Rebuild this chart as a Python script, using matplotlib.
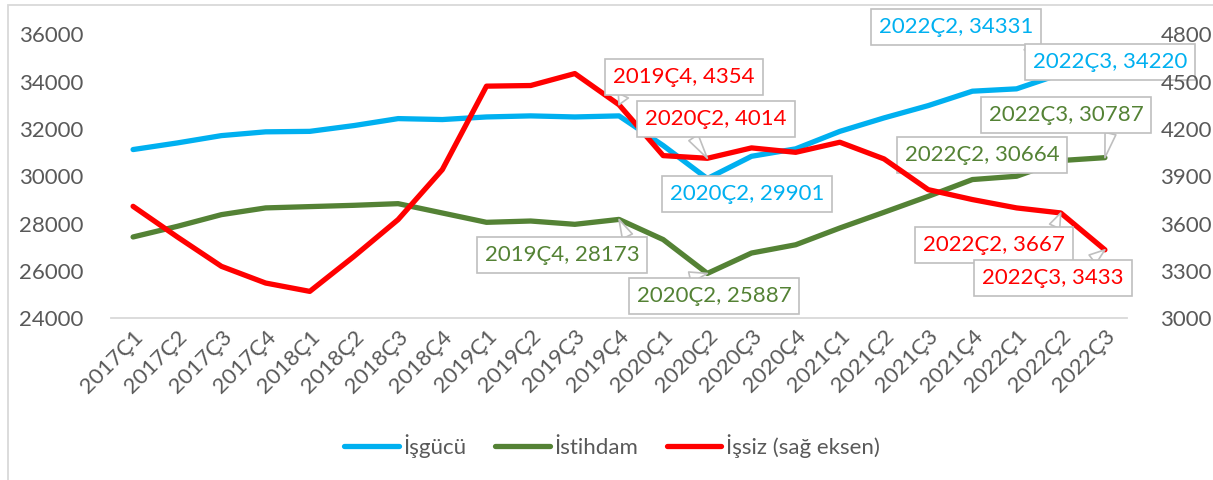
import matplotlib.pyplot as plt
from matplotlib.patches import Rectangle

plt.rcParams['font.family'] = ['Lato', 'DejaVu Sans']

# veri
donemler = ['2017Ç1', '2017Ç2', '2017Ç3', '2017Ç4', '2018Ç1', '2018Ç2', '2018Ç3', '2018Ç4',
            '2019Ç1', '2019Ç2', '2019Ç3', '2019Ç4', '2020Ç1', '2020Ç2', '2020Ç3', '2020Ç4',
            '2021Ç1', '2021Ç2', '2021Ç3', '2021Ç4', '2022Ç1', '2022Ç2', '2022Ç3']
isgucu = [31130, 31410, 31720, 31880, 31900, 32145, 32440, 32400, 32510, 32555, 32510, 32555,
          31300, 29901, 30845, 31160, 31900, 32470, 32990, 33600, 33700, 34331, 34220]
istihdam = [27430, 27880, 28375, 28660, 28715, 28770, 28840, 28445, 28050, 28105, 27965, 28173,
            27320, 25887, 26750, 27100, 27810, 28475, 29150, 29860, 30000, 30664, 30787]
issiz = [3709, 3515, 3328, 3222, 3169, 3391, 3625, 3942, 4472, 4476, 4552, 4354,
         4031, 4014, 4080, 4052, 4116, 4010, 3815, 3752, 3699, 3667, 3433]

mavi = '#00B0F0'
yesil = '#548235'
kirmizi = '#FF0000'
gri = '#595959'
fs = 16

fig = plt.figure(figsize=(12.13, 4.8), dpi=100)
ax = fig.add_axes([111/1213, 1 - 318/480, (1127 - 111)/1213, (318 - 34.5)/480])
ax2 = ax.twinx()

x = list(range(len(donemler)))
l1, = ax.plot(x, isgucu, color=mavi, lw=3.8, solid_capstyle='round', solid_joinstyle='round')
l2, = ax.plot(x, istihdam, color=yesil, lw=3.8, solid_capstyle='round', solid_joinstyle='round')
l3, = ax2.plot(x, issiz, color=kirmizi, lw=3.8, solid_capstyle='round', solid_joinstyle='round')

ax.set_xlim(-0.5, len(donemler) - 0.5)
ax.set_ylim(24000, 36000)
ax.set_yticks(range(24000, 36001, 2000))
ax2.set_ylim(3000, 4800)
ax2.set_yticks(range(3000, 4801, 300))
ax.set_xticks(x)
ax.set_xticklabels(donemler, rotation=45, ha='right', rotation_mode='anchor')

for a in (ax, ax2):
    for s in a.spines.values():
        s.set_visible(False)
    a.tick_params(length=0, labelsize=fs, colors=gri)
ax.spines['bottom'].set_visible(True)
ax.spines['bottom'].set_color('#D9D9D9')
ax.spines['bottom'].set_linewidth(1.3)
ax.tick_params(axis='y', pad=20)
ax.tick_params(axis='x', pad=6)
ax2.tick_params(axis='y', pad=24)

# etiketler: (seri, indeks, eksen, renk, kutu merkezi px, kutu kenarindaki baglanti)
etiketler = [
    (isgucu, 21, ax, mavi, (956, 27), (0.9, 0.0)),
    (isgucu, 22, ax, mavi, (1110, 62), (0.5, 0.0)),
    (isgucu, 13, ax, mavi, (747, 194), (0.1, 1.0)),
    (istihdam, 11, ax, yesil, (562, 255), (0.95, 1.0)),
    (istihdam, 13, ax, yesil, (714, 296), (0.1, 1.0)),
    (istihdam, 21, ax, yesil, (982, 155), (0.95, 0.5)),
    (istihdam, 22, ax, yesil, (1066, 115), (0.8, 0.0)),
    (issiz, 11, ax2, kirmizi, (684, 77), (0.1, 0.0)),
    (issiz, 13, ax2, kirmizi, (716, 119), (0.3, 0.0)),
    (issiz, 21, ax2, kirmizi, (994, 245), (0.9, 1.0)),
    (issiz, 22, ax2, kirmizi, (1053, 278), (0.7, 1.0)),
]
for seri, i, eksen, renk, (px, py), rp in etiketler:
    eksen.annotate(f'{donemler[i]}, {seri[i]}', xy=(i, seri[i]), xycoords='data',
                   xytext=(px, 480 - py), textcoords='figure pixels',
                   ha='center', va='center', fontsize=fs, color=renk, zorder=5,
                   bbox=dict(boxstyle='square,pad=0.36', fc='white', ec='#BFBFBF', lw=1.2),
                   arrowprops=dict(arrowstyle='wedge,tail_width=0.5,shrink_factor=0.5',
                                   fc='white', ec='#BFBFBF', lw=1.2, relpos=rp,
                                   shrinkA=0, shrinkB=0))

fig.legend([l1, l2, l3], ['İşgücü', 'İstihdam', 'İşsiz (sağ eksen)'],
           loc='center', bbox_to_anchor=(612/1213, 1 - 446/480), ncol=3, frameon=False,
           fontsize=fs, labelcolor=gri, handlelength=2.45, handletextpad=0.2,
           columnspacing=1.3)

fig.add_artist(Rectangle((8/1213, -0.01), 1.02, 1 - 5/480 + 0.01, transform=fig.transFigure,
                         fill=False, ec='#D9D9D9', lw=1.3))

fig.savefig('out.png', dpi=100)
